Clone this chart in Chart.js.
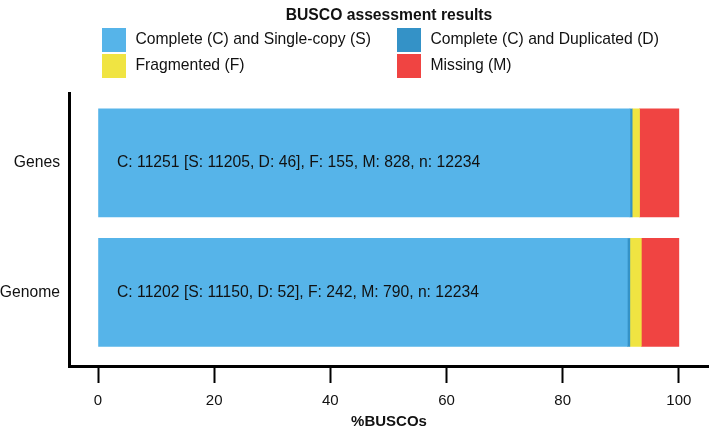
<!DOCTYPE html>
<html>
<head>
<meta charset="utf-8">
<script src="https://cdn.jsdelivr.net/npm/chart.js@4/dist/chart.umd.min.js"></script>
<style>
  html, body { margin: 0; padding: 0; background: #fff; }
  #chart { display: block; }
</style>
</head>
<body>
<canvas id="chart" width="709" height="431"></canvas>
<script>
const categories = ["Genes", "Genome"]
const singleCopy = [91.59, 91.14]
const duplicated = [0.38, 0.43]
const fragmented = [1.27, 1.98]
const missing = [6.77, 6.46]
const barLabels = [
  "C: 11251 [S: 11205, D: 46], F: 155, M: 828, n: 12234",
  "C: 11202 [S: 11150, D: 52], F: 242, M: 790, n: 12234"
]
const xTicks = [0, 20, 40, 60, 80, 100]

const seriesNames = ["Complete (C) and Single-copy (S)", "Complete (C) and Duplicated (D)", "Fragmented (F)", "Missing (M)"]
const seriesColors = ["#56b4e9", "#3492c7", "#f0e442", "#f04442"]
const seriesValues = [singleCopy, duplicated, fragmented, missing]

const font = "'Liberation Sans', Arial, Helvetica, sans-serif"

// title + 2x2 legend at top, and the text inside each bar
const buscoDecor = {
  id: "buscoDecor",
  afterDatasetsDraw(chart) {
    const ctx = chart.ctx
    const x0 = chart.scales.x.getPixelForValue(0)
    const meta = chart.getDatasetMeta(0)
    ctx.save()
    ctx.fillStyle = "#111"
    ctx.font = "15.7px " + font
    ctx.textAlign = "left"
    ctx.textBaseline = "middle"
    meta.data.forEach((bar, i) => {
      ctx.fillText(barLabels[i], x0 + 19, bar.y)
    })
    ctx.restore()
  },
  afterDraw(chart) {
    const ctx = chart.ctx
    const area = chart.chartArea
    ctx.save()
    ctx.fillStyle = "#111"
    ctx.font = "bold 15.7px " + font
    ctx.textAlign = "center"
    ctx.textBaseline = "middle"
    ctx.fillText("BUSCO assessment results", (area.left + area.right) / 2, 16)

    const colX = [102, 397]
    const rowY = [28, 54]
    ctx.font = "15.7px " + font
    ctx.textAlign = "left"
    chart.data.datasets.forEach((ds, i) => {
      const x = colX[i % 2]
      const y = rowY[Math.floor(i / 2)]
      ctx.fillStyle = ds.backgroundColor
      ctx.fillRect(x, y, 24, 24)
      ctx.fillStyle = "#111"
      ctx.fillText(ds.label, x + 33.5, y + 12)
    })
    ctx.restore()
  }
}

new Chart(document.getElementById("chart"), {
  type: "bar",
  data: {
    datasets: seriesNames.map((name, s) => ({
      label: name,
      data: categories.map((c, i) => ({ x: seriesValues[s][i], y: i })),
      backgroundColor: seriesColors[s],
      borderWidth: 0,
      barThickness: 108
    }))
  },
  options: {
    indexAxis: "y",
    responsive: false,
    animation: false,
    devicePixelRatio: 1,
    layout: { padding: { top: 93, left: 0, right: 0, bottom: 0 } },
    scales: {
      x: {
        type: "linear",
        stacked: true,
        min: -5,
        max: 105.2,
        afterBuildTicks: (axis) => { axis.ticks = xTicks.map(v => ({ value: v })) },
        afterFit: (axis) => { axis.height = 65 },
        border: { display: true, color: "#000", width: 3 },
        grid: {
          display: true,
          drawOnChartArea: false,
          drawTicks: true,
          tickLength: 17,
          tickWidth: 2,
          tickColor: "#000"
        },
        ticks: {
          padding: 9,
          color: "#111",
          font: { family: font, size: 15 }
        },
        title: {
          display: true,
          text: "%BUSCOs",
          color: "#111",
          padding: { top: 0, bottom: 0 },
          font: { family: font, size: 15, weight: "bold" }
        }
      },
      y: {
        type: "linear",
        stacked: true,
        reverse: true,
        offset: false, // bar defaults pad the index axis, keep the range as set
        min: -0.54,
        max: 1.568,
        afterBuildTicks: (axis) => { axis.ticks = categories.map((c, i) => ({ value: i })) },
        afterFit: (axis) => { axis.width = 69 },
        border: { display: true, color: "#000", width: 3 },
        grid: { display: false, drawTicks: false, offset: false },
        ticks: {
          padding: 9,
          color: "#111",
          font: { family: font, size: 15.7 },
          callback: (v) => categories[v]
        }
      }
    },
    plugins: {
      legend: { display: false },
      title: { display: false },
      tooltip: { enabled: false }
    }
  },
  plugins: [buscoDecor]
})
</script>
</body>
</html>
